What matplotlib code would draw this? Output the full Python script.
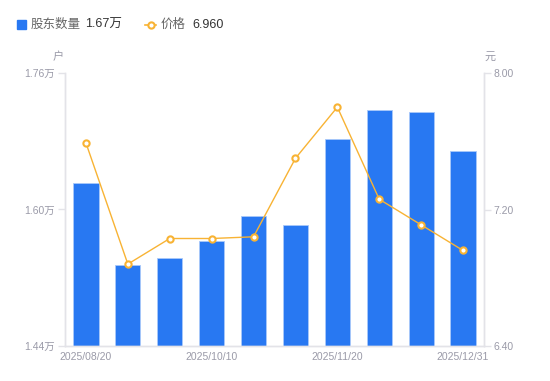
import matplotlib
matplotlib.use("Agg")
import matplotlib.pyplot as plt
from matplotlib.lines import Line2D
import numpy as np

dates = ["2025/08/20", "2025/08/31", "2025/09/30", "2025/10/10", "2025/10/20",
         "2025/10/31", "2025/11/20", "2025/11/30", "2025/12/10", "2025/12/31"]
holders = [1.631, 1.535, 1.543, 1.563, 1.592, 1.582, 1.683, 1.717, 1.714, 1.669]  # 万户
price = [7.59, 6.88, 7.03, 7.03, 7.04, 7.50, 7.80, 7.26, 7.11, 6.96]
left_ticks = [1.44, 1.60, 1.76]
right_ticks = [6.40, 7.20, 8.00]
shown_dates = [0, 3, 6, 9]

FONT = ["Liberation Sans", "Noto Sans CJK SC", "DejaVu Sans"]
plt.rcParams["font.family"] = FONT

BLUE = "#2878f2"
ORANGE = "#f8b334"
GRID = "#e3e3e8"
TICKC = "#9a9aa8"

fig = plt.figure(figsize=(5.5, 3.81), dpi=100)
ax = fig.add_axes([65 / 550, 35 / 381, 419 / 550, 273 / 381])
x = np.arange(len(dates))
ax.bar(x, holders, width=0.6, color=BLUE, edgecolor="#a9c9fa", linewidth=0.6, zorder=2)
ax.set_xlim(-0.5, len(dates) - 0.5)
ax.set_ylim(left_ticks[0], left_ticks[-1])
ax.set_yticks(left_ticks)
ax.set_yticklabels([f"{v:.2f}万" for v in left_ticks])
ax.set_xticks([x[i] for i in shown_dates])
ax.set_xticklabels([dates[i] for i in shown_dates])

ax2 = ax.twinx()
ax2.plot(x, price, color=ORANGE, linewidth=1.0, marker="o", markersize=4.5,
         markerfacecolor="white", markeredgecolor=ORANGE, markeredgewidth=1.5, zorder=3)
ax2.set_ylim(right_ticks[0], right_ticks[-1])
ax2.set_yticks(right_ticks)
ax2.set_yticklabels([f"{v:.2f}" for v in right_ticks])

for a in (ax, ax2):
    for s in ("top",):
        a.spines[s].set_visible(False)
    for s in ("left", "right", "bottom"):
        a.spines[s].set_color(GRID)
        a.spines[s].set_linewidth(1.0)
    a.tick_params(axis="y", colors=GRID, labelcolor=TICKC, labelsize=7.5, length=5, width=1, pad=2)
ax.tick_params(axis="x", length=0, labelcolor=TICKC, labelsize=7.5, pad=4)
ax2.spines["top"].set_visible(False)

fig.text(58 / 550, 1 - 57 / 381, "户", color=TICKC, fontsize=8, ha="center", va="center")
fig.text(490 / 550, 1 - 57 / 381, "元", color=TICKC, fontsize=8, ha="center", va="center")

# legend
ly = 1 - 24.5 / 381
fig.patches.append(plt.Rectangle((17 / 550, 1 - 29 / 381), 9 / 550, 9 / 381,
                                 transform=fig.transFigure, color=BLUE, figure=fig))
fig.text(31 / 550, ly, "股东数量", color="#666666", fontsize=9, va="center")
fig.text(85 / 550, ly, f"{holders[-1]:.2f}万", color="#333333", fontsize=9, va="center")
fig.lines.append(Line2D([145 / 550, 156 / 550], [ly, ly], transform=fig.transFigure,
                        color=ORANGE, linewidth=1.2, marker="o", markevery=[0],
                        markersize=0, figure=fig))
fig.lines.append(Line2D([150.5 / 550], [ly], transform=fig.transFigure, color=ORANGE,
                        marker="o", markersize=4.5, markerfacecolor="white",
                        markeredgewidth=1.5, linestyle="none", figure=fig))
fig.text(161 / 550, ly, "价格", color="#666666", fontsize=9, va="center")
fig.text(192 / 550, ly, f"{price[-1]:.3f}", color="#333333", fontsize=9, va="center")

fig.savefig("out.png", dpi=100)
